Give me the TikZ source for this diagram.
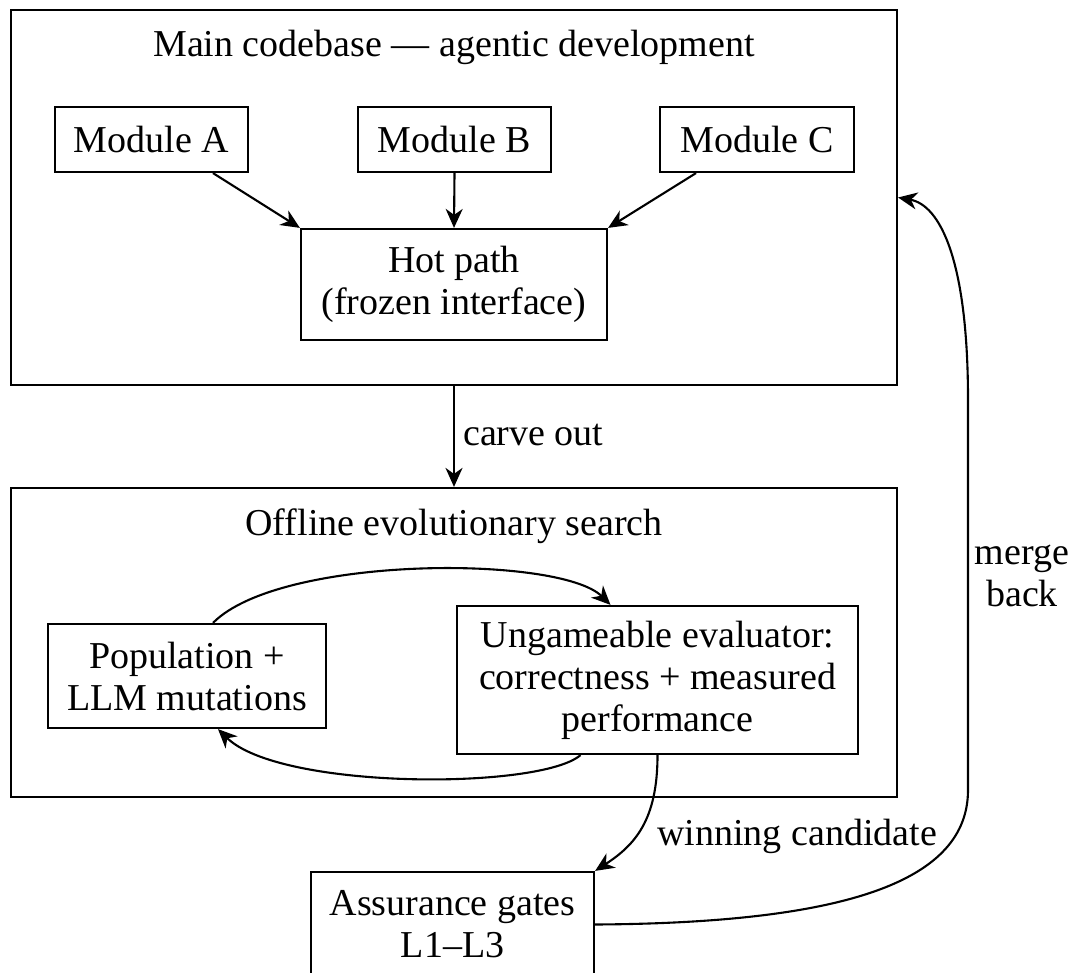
\documentclass[tikz,border=0pt]{standalone}
\usepackage{fontspec}
\setmainfont{Liberation Serif}
\usetikzlibrary{arrows.meta}
\begin{document}
\begin{tikzpicture}[x=1pt,y=-1pt,
  every node/.style={font=\fontsize{38}{42}\selectfont, inner sep=0pt},
  box/.style={draw, line width=2.2pt, align=center},
  frame/.style={draw, line width=2.2pt},
  conn/.style={line width=2.1pt, -{Stealth[length=19pt,width=17pt,inset=6pt]}}
]
\useasboundingbox (0,0) rectangle (1083,973);
% frames
\node[frame, minimum width=886pt, minimum height=375pt] (main) at (454,197.5) {};
\node[frame, minimum width=886pt, minimum height=309pt] (off) at (454,642.5) {};
% titles
\node[anchor=base] (t1) at (454,57) {Main codebase — agentic development};
\node[anchor=base] (t2) at (454,535) {Offline evolutionary search};
% modules
\node[box, minimum width=193pt, minimum height=65pt] (ma) at (151.5,139.5) {Module A};
\node[box, minimum width=193pt, minimum height=65pt] (mb) at (454.5,139.5) {Module B};
\node[box, minimum width=194pt, minimum height=65pt] (mc) at (757,139.5) {Module C};
\node[box, minimum width=306pt, minimum height=111pt] (hot) at (454,284.5) {Hot path\\(frozen interface)};
% offline
\node[box, minimum width=278pt, minimum height=104pt] (pop) at (187,676) {Population +\\LLM mutations};
\node[box, minimum width=401pt, minimum height=148pt] (ung) at (657.5,680) {Ungameable evaluator:\\correctness + measured\\performance};
\node[box, minimum width=283pt, minimum height=105pt] (asr) at (452.5,924.5) {Assurance gates\\L1–L3};
% labels
\node[anchor=base west] (lcarve) at (463,445) {carve out};
\node[anchor=base west] (lwin) at (657,845) {winning candidate};
\node[align=center] (lmerge) at (1022,576) {merge\\back};
% connectors
\draw[conn] ([xshift=61.5pt]ma.south) -- (hot.north west);
\draw[conn] (mb.south) -- (hot.north);
\draw[conn] ([xshift=-61pt]mc.south) -- (hot.north east);
\draw[conn] (main.south) -- (off.north);
\draw[conn] ([xshift=26pt]pop.north) .. controls (280,555) and (560,555) .. ([xshift=-47pt]ung.north);
\draw[conn] ([xshift=-77pt]ung.south) .. controls (540,790) and (280,790) .. ([xshift=31pt]pop.south);
\draw[conn] (ung.south) .. controls (657.5,820) and (635,845) .. (asr.north east);
\draw[conn] (asr.east) .. controls (850,923) and (968,880) .. (968,790) -- (968,400) .. controls (968,260) and (940,205) .. (main.east);
\end{tikzpicture}
\end{document}
